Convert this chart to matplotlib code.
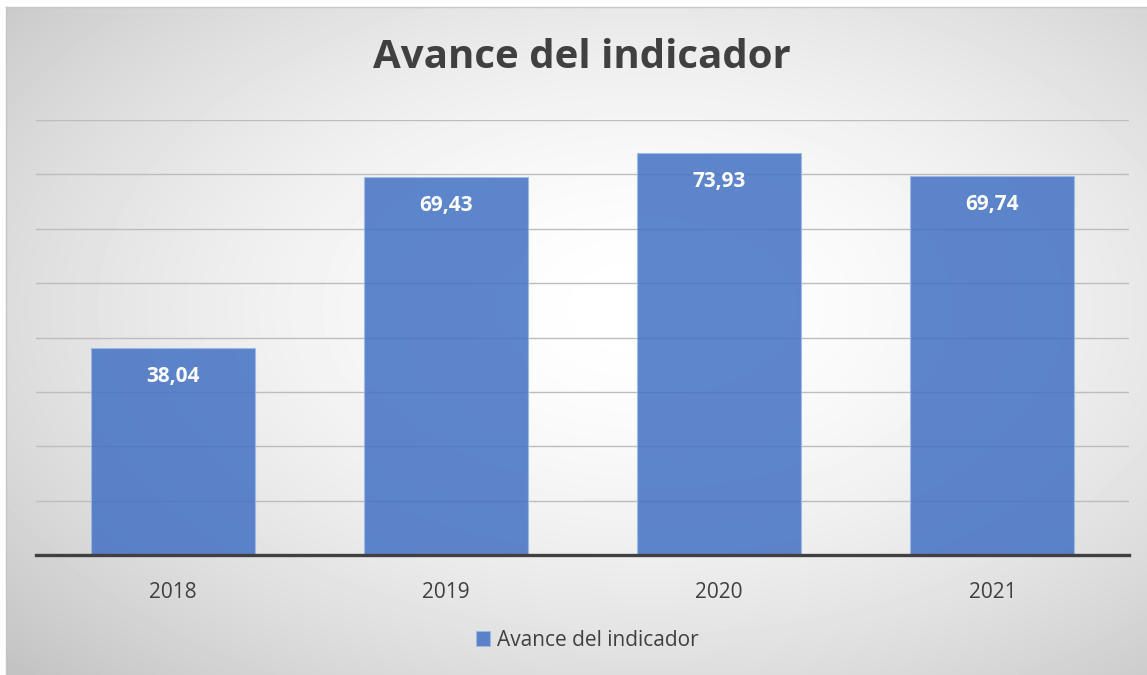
import numpy as np
import matplotlib.pyplot as plt
from matplotlib.patches import Patch

years = ["2018", "2019", "2020", "2021"]
avance = [38.04, 69.43, 73.93, 69.74]
serie = "Avance del indicador"
y_max = 80
y_step = 10

W, H = 1147, 675
plt.rcParams["font.family"] = ["Open Sans", "DejaVu Sans"]

fig = plt.figure(figsize=(W / 100, H / 100), dpi=100)
fig.patch.set_facecolor("white")

# fondo del grafico: degradado radial gris claro
bg = fig.add_axes([6 / W, 0, 1 - 6 / W, 1 - 7 / H])
yy, xx = np.mgrid[0:H - 7, 0:W - 6]
cx, cy = 640, 300
r = np.sqrt(((xx - cx) / 640.0) ** 2 + ((yy - cy) / 380.0) ** 2)
r = np.clip(r / r.max(), 0, 1)
gray = 1.0 - 0.24 * r ** 1.7
bg.imshow(gray, cmap="gray", vmin=0, vmax=1, aspect="auto", interpolation="bilinear")
bg.set_xticks([])
bg.set_yticks([])
for side, sp in bg.spines.items():
    sp.set_color("#c4c4c4")
    sp.set_linewidth(1.0)
    if side in ("right", "bottom"):
        sp.set_visible(False)

ax = fig.add_axes([36 / W, (H - 555) / H, (1129 - 36) / W, (555 - 120) / H])
ax.set_facecolor("none")
x = np.arange(len(years))
bars = ax.bar(x, avance, width=0.6, color="#4472c4", alpha=0.86,
              edgecolor="#9dbbe6", linewidth=0.8, zorder=2)

for b, v in zip(bars, avance):
    ax.text(b.get_x() + b.get_width() / 2, v - 5.2, f"{v:.2f}".replace(".", ","),
            ha="center", va="center", color="white", fontsize=15,
            fontweight="bold", zorder=3)

ax.set_xlim(-0.5, len(years) - 0.5)
ax.set_ylim(0, y_max)
ax.set_yticks(np.arange(0, y_max + 1, y_step))
ax.yaxis.grid(True, color="#bdbdbd", linewidth=1.0)
ax.set_axisbelow(True)
ax.tick_params(axis="y", left=False, labelleft=False)
ax.tick_params(axis="x", bottom=False, labelsize=15, labelcolor="#404040", pad=16)
ax.set_xticks(x)
ax.set_xticklabels(years)
for side in ("left", "right", "top"):
    ax.spines[side].set_visible(False)
ax.spines["bottom"].set_color("#404040")
ax.spines["bottom"].set_linewidth(2.4)
ax.spines["bottom"].set_zorder(4)

fig.text(582 / W, 1 - 58 / H, "Avance del indicador", ha="center", va="center",
         fontsize=29, fontweight="bold", color="#404040")

handle = Patch(facecolor="#4472c4", alpha=0.86, edgecolor="#9dbbe6", linewidth=0.8)
fig.legend([handle], [serie], loc="center", bbox_to_anchor=(587 / W, 1 - 640 / H),
           frameon=False, fontsize=15, labelcolor="#404040",
           handlelength=0.7, handleheight=0.7, handletextpad=0.3)

fig.savefig("out.png", dpi=100)
